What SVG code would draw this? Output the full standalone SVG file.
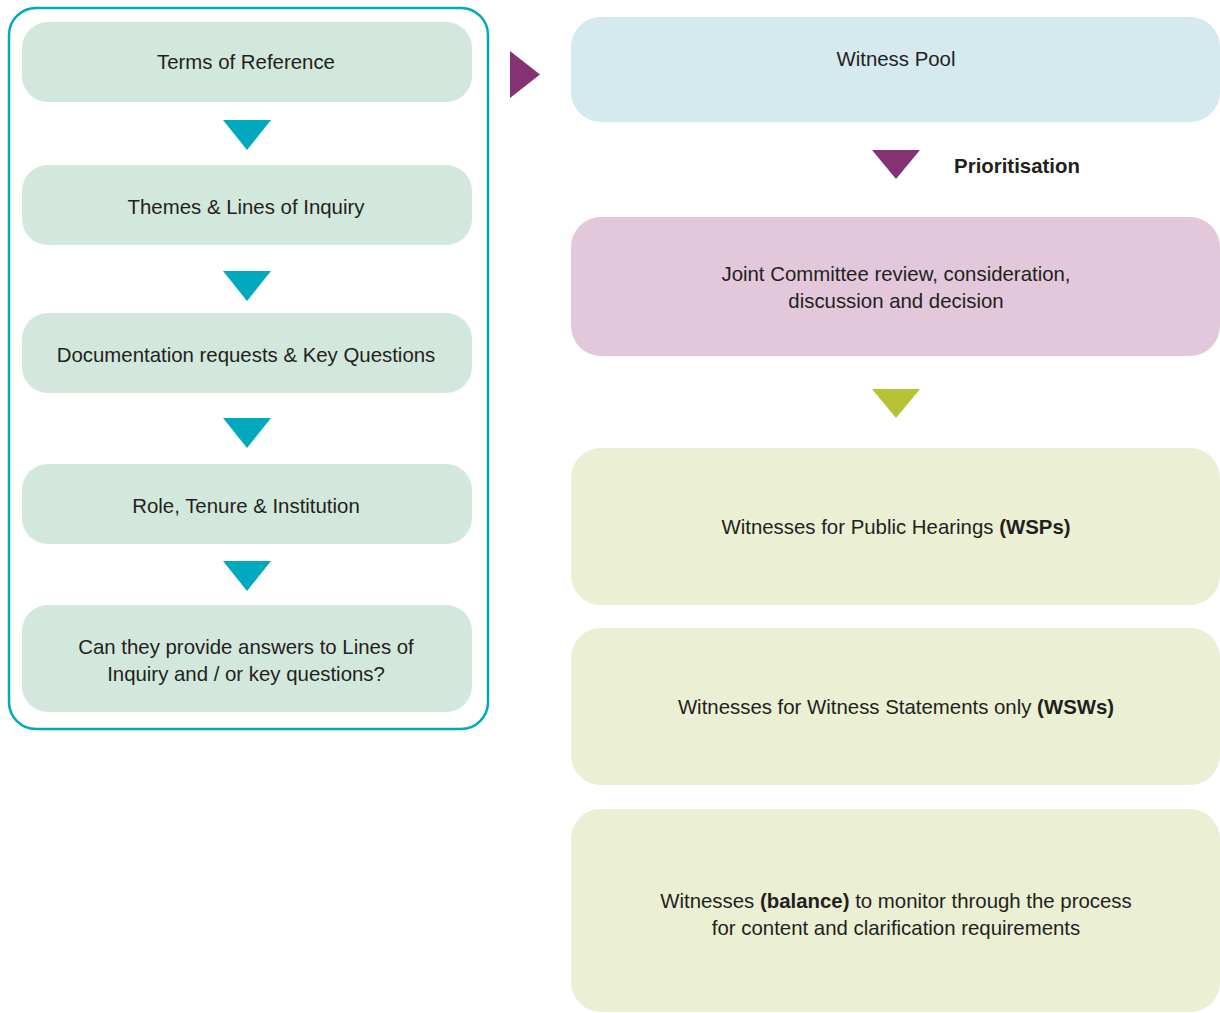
<svg xmlns="http://www.w3.org/2000/svg" width="1220" height="1013" viewBox="0 0 1220 1013">
<style>
.t{font-family:"Liberation Sans",Arial,sans-serif;font-size:20.4px;fill:#231f20;text-anchor:middle}
.b{font-weight:bold}
.lb{fill:#d3e8dc}
.tri{fill:#00a9bd}
.g{fill:#ebefd4}
</style>
<rect width="1220" height="1013" fill="#ffffff"/>
<g id="container">
<rect x="9" y="8" width="479" height="721" rx="27" fill="none" stroke="#00a9bd" stroke-width="2.5"/>
</g>
<g id="terms"><rect class="lb" x="22" y="22" width="450" height="80" rx="26"/><text class="t" x="246" y="69">Terms of Reference</text></g>
<g id="themes"><rect class="lb" x="22" y="165" width="450" height="80" rx="26"/><text class="t" x="246" y="214">Themes &amp; Lines of Inquiry</text></g>
<g id="docs"><rect class="lb" x="22" y="313" width="450" height="80" rx="26"/><text class="t" x="246" y="362">Documentation requests &amp; Key Questions</text></g>
<g id="role"><rect class="lb" x="22" y="464" width="450" height="80" rx="26"/><text class="t" x="246" y="513">Role, Tenure &amp; Institution</text></g>
<g id="answers"><rect class="lb" x="22" y="605" width="450" height="107" rx="26"/><text class="t" x="246" y="654">Can they provide answers to Lines of</text><text class="t" x="246" y="681">Inquiry and / or key questions?</text></g>
<g id="pool"><rect x="571" y="17" width="649" height="105" rx="30" fill="#d4eaee"/><text class="t" x="896" y="66">Witness Pool</text></g>
<g id="committee"><rect x="571" y="217" width="649" height="139" rx="30" fill="#e2c8da"/><text class="t" x="896" y="281">Joint Committee review, consideration,</text><text class="t" x="896" y="308">discussion and decision</text></g>
<g id="wsp"><rect class="g" x="571" y="448" width="649" height="157" rx="30"/><text class="t" x="896" y="534">Witnesses for Public Hearings <tspan class="b">(WSPs)</tspan></text></g>
<g id="wsw"><rect class="g" x="571" y="628" width="649" height="157" rx="30"/><text class="t" x="896" y="714">Witnesses for Witness Statements only <tspan class="b">(WSWs)</tspan></text></g>
<g id="balance"><rect class="g" x="571" y="809" width="649" height="203" rx="30"/><text class="t" x="896" y="908">Witnesses <tspan class="b">(balance)</tspan> to monitor through the process</text><text class="t" x="896" y="935">for content and clarification requirements</text></g>
<g id="connectors">
<polygon class="tri" points="223,120 271,120 247,150"/>
<polygon class="tri" points="223,271 271,271 247,301"/>
<polygon class="tri" points="223,418 271,418 247,448"/>
<polygon class="tri" points="223,561 271,561 247,591"/>
<polygon fill="#843274" points="510,51 540,74.5 510,98"/>
<polygon fill="#843274" points="872,150 920,150 896,179"/>
<text class="t b" x="1017" y="173">Prioritisation</text>
<polygon fill="#b5c334" points="872,389 920,389 896,418"/>
</g>
</svg>
